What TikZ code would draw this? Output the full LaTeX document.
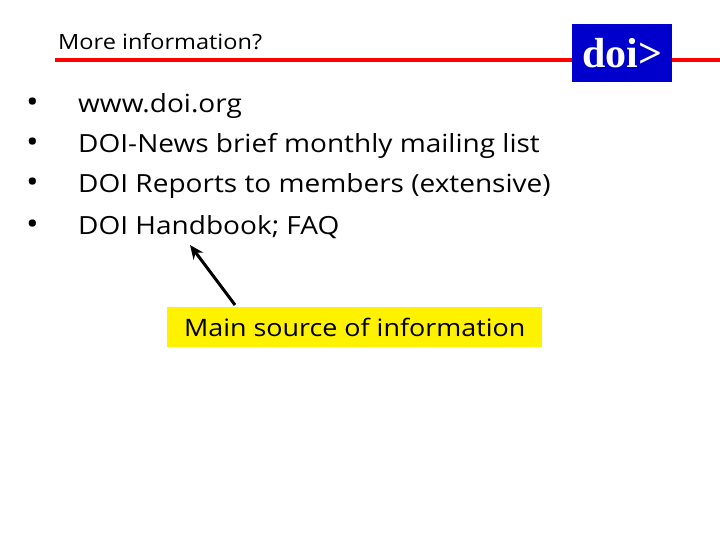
\documentclass[tikz,border=0pt]{standalone}
\usetikzlibrary{arrows.meta}
\usepackage{fontspec}
\setmainfont{Open Sans}[FakeStretch=1.12]
\newfontfamily\serifb{Liberation Serif}
\begin{document}
\begin{tikzpicture}[x=1pt,y=-1pt,
  bul/.style={anchor=base west,font=\fontsize{25}{28}\selectfont,inner sep=0pt}]
\useasboundingbox (0,0) rectangle (720,540);
\fill[white] (0,0) rectangle (720,540);
\node[anchor=base west,inner sep=0pt,font=\fontsize{21}{24}\selectfont] (title) at (58,50) {More information?};
\coordinate (l1) at (55,60); \coordinate (l2) at (720,60);
\draw[red,line width=4pt] (l1) -- (l2);
\node[fill=blue!80!black,minimum width=100pt,minimum height=58pt,anchor=north west,inner sep=0pt,text=white,font=\serifb\bfseries\fontsize{42}{44}\selectfont] (doi) at (572,24) {doi>};
\foreach \y/\t [count=\i] in {113/www.doi.org,153/DOI-News brief monthly mailing list,193/DOI Reports to members (extensive),235/DOI Handbook; FAQ}{
  \node[bul] (b\i) at (78,\y) {\t};
  \node[bul,font=\fontsize{30}{30}\selectfont] (d\i) at (26,\y) {\textbullet};
}
\node[fill=yellow,anchor=north west,minimum width=375pt,minimum height=40pt,inner sep=0pt,font=\fontsize{24}{28}\selectfont] (src) at (167,307) {Main source of information};
\coordinate (a1) at (235,305); \coordinate (a2) at (190,245);
\draw[line width=3pt,-{Stealth[length=14pt,width=12pt]}] (a1) -- (a2);
\end{tikzpicture}
\end{document}
